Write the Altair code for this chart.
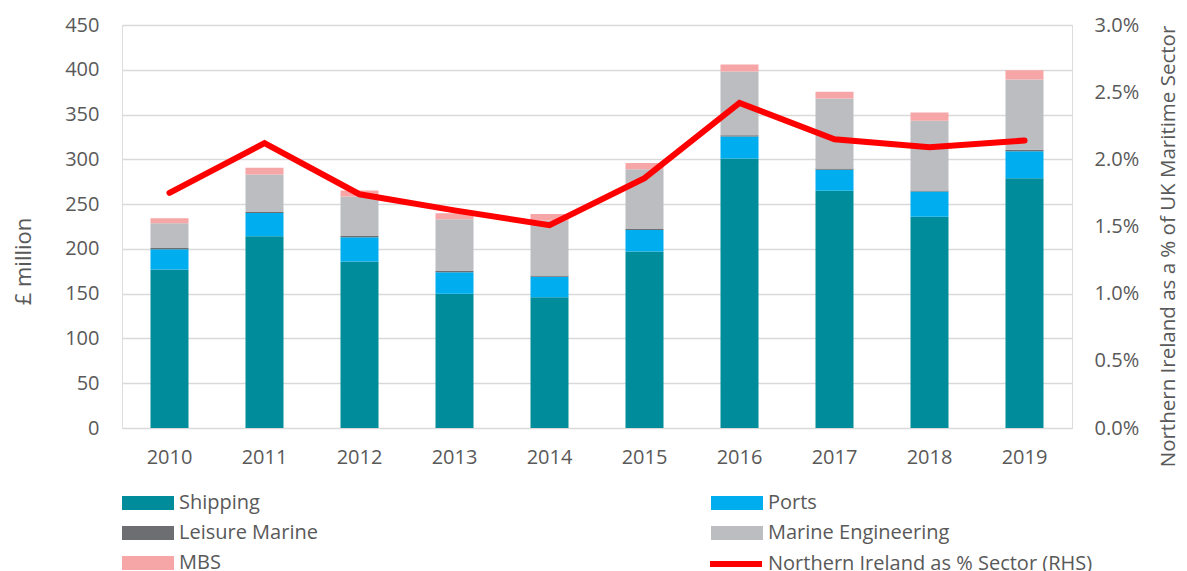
import altair as alt
import pandas as pd

years = ["2010", "2011", "2012", "2013", "2014", "2015", "2016", "2017", "2018", "2019"]
categories = ["Shipping", "Ports", "Leisure Marine", "Marine Engineering", "MBS"]
colors = ["#008C9A", "#00AEEF", "#6D6E71", "#BCBDC0", "#F7A6A8"]

shipping = [177, 214, 186, 150, 146, 197, 301, 265, 236, 279]
ports = [22.5, 26, 27, 24, 23, 24, 24.5, 23.5, 28, 30]
leisure = [1.5, 1.2, 1.4, 1.4, 1.2, 1.2, 1.3, 1.2, 1.2, 1.8]
marine_eng = [27.5, 42, 44, 57.6, 61.3, 66.7, 71.3, 78.2, 77.8, 78.4]
mbs = [5.6, 7.3, 6.7, 6.7, 7.5, 7.1, 7.9, 7.5, 9.3, 10.4]
ni_share = [0.0175, 0.0212, 0.0174, 0.0162, 0.0151, 0.0186, 0.0242, 0.0215, 0.0209, 0.0214]

line_label = "Northern Ireland as % Sector (RHS)"
FONT = "Open Sans"
TXT = "#595959"

series = [shipping, ports, leisure, marine_eng, mbs]
rows = []
for ci, (cat, vals) in enumerate(zip(categories, series)):
    for y, v in zip(years, vals):
        rows.append({"year": y, "category": cat, "value": v, "order": ci})
bars_df = pd.DataFrame(rows)
line_df = pd.DataFrame({"year": years, "share": ni_share, "label": [line_label] * len(years)})

x_enc = alt.X(
    "year:O",
    title=None,
    scale=alt.Scale(paddingInner=0.6, paddingOuter=0.3),
    axis=alt.Axis(labelAngle=0, domain=False, ticks=False, labelPadding=19,
                  labelFontSize=20, labelFont=FONT, labelColor=TXT),
)

bars = alt.Chart(bars_df).mark_bar().encode(
    x=x_enc,
    y=alt.Y(
        "value:Q",
        stack="zero",
        scale=alt.Scale(domain=[0, 450]),
        axis=alt.Axis(
            values=list(range(0, 451, 50)),
            title="£ million",
            titleFont=FONT, titleFontSize=22, titleFontWeight="normal", titleColor=TXT,
            titleAngle=270, titleAlign="center", titleBaseline="middle",
            titleX=-99, titleY=236,
            labelFont=FONT, labelFontSize=20, labelColor=TXT, labelPadding=23,
            domain=False, ticks=False,
            grid=True, gridColor="#D9D9D9", gridWidth=1.3,
        ),
    ),
    color=alt.Color(
        "category:N",
        sort=categories,
        scale=alt.Scale(domain=categories, range=colors),
        legend=alt.Legend(
            title=None, orient="none", legendX=16, legendY=468,
            direction="horizontal",
            columns=2, columnPadding=393, rowPadding=10,
            symbolType="M-2.6,-0.7L2.6,-0.7L2.6,0.7L-2.6,0.7Z", symbolSize=400,
            symbolStrokeWidth=0,
            labelFont=FONT, labelFontSize=20, labelColor=TXT, labelOffset=21,
            labelLimit=400,
            padding=0,
        ),
    ),
    order=alt.Order("order:Q", sort="ascending"),
)

line = alt.Chart(line_df).mark_line(strokeWidth=6, strokeCap="round", strokeJoin="miter").encode(
    x=alt.X("year:O"),
    y=alt.Y(
        "share:Q",
        scale=alt.Scale(domain=[0, 0.03]),
        axis=alt.Axis(
            orient="right",
            values=[0, 0.005, 0.01, 0.015, 0.02, 0.025, 0.03],
            format=".1%",
            title="Northern Ireland as a % of UK Maritime Sector",
            titleFont=FONT, titleFontSize=20.5, titleFontWeight="normal", titleColor=TXT,
            titleAngle=270, titleAlign="center", titleBaseline="middle",
            titleX=96, titleY=221,
            labelFont=FONT, labelFontSize=20, labelColor=TXT, labelPadding=22,
            domain=False, ticks=False, grid=False,
        ),
    ),
    stroke=alt.Stroke(
        "label:N",
        scale=alt.Scale(domain=[line_label], range=["#FF0000"]),
        legend=alt.Legend(
            title=None, orient="none", legendX=585, legendY=510,
            symbolType="stroke", symbolSize=2704, symbolStrokeWidth=6,
            symbolStrokeColor="#FF0000",
            labelFont=FONT, labelFontSize=20, labelColor=TXT, labelOffset=3,
            labelLimit=400,
            padding=0,
        ),
    ),
)

chart = alt.layer(bars, line).resolve_scale(y="independent").properties(
    width=950,
    height=403,
    autosize=alt.AutoSizeParams(type="none"),
    padding={"left": 114, "top": 17, "right": 107, "bottom": 150},
).configure_view(stroke=None).configure(background="white")

chart.save("out.html", embed_options={"renderer": "svg", "actions": False})
